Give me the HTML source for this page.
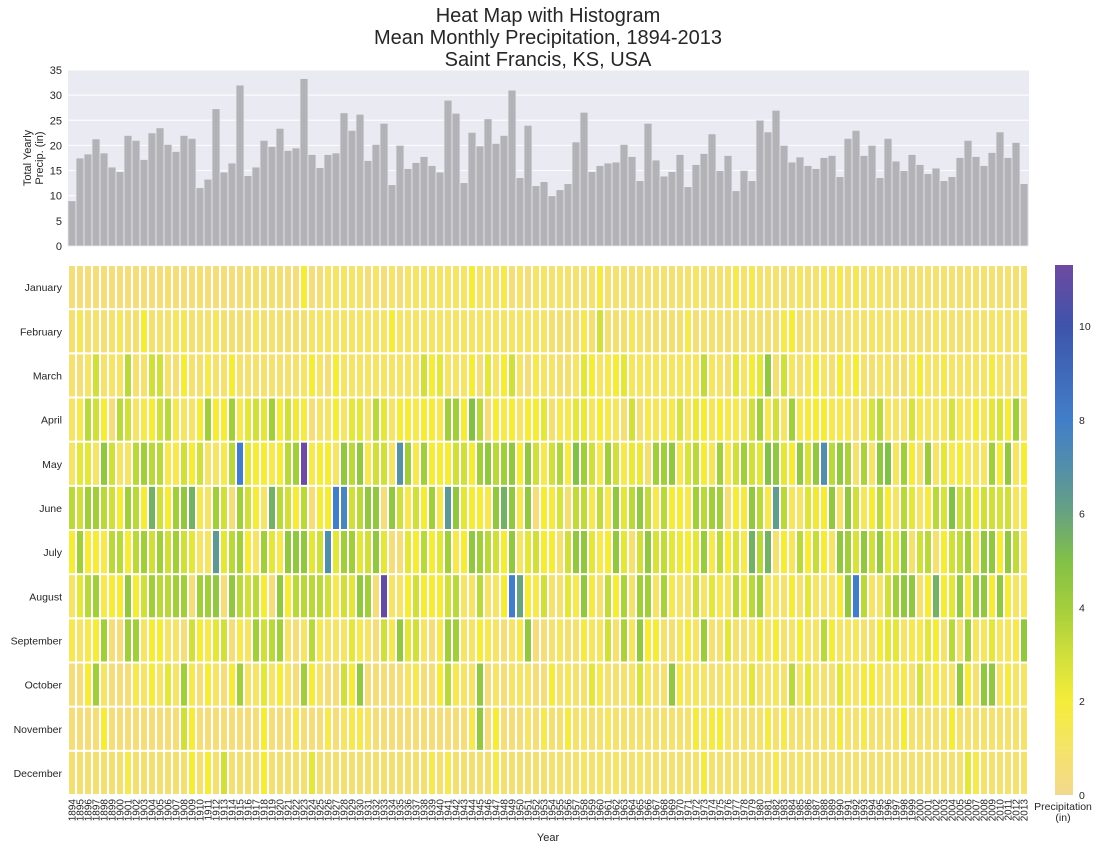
<!DOCTYPE html>
<html><head><meta charset="utf-8">
<style>
body{margin:0;background:#fff;font-family:"Liberation Sans",sans-serif;}
svg text{font-family:"Liberation Sans",sans-serif;fill:#262626;}
</style></head>
<body>
<svg id="chart" width="1100" height="849" viewBox="0 0 1100 849" xmlns="http://www.w3.org/2000/svg">
<text x="548" y="22" font-size="20" text-anchor="middle">Heat Map with Histogram</text>
<text x="548" y="44" font-size="20" text-anchor="middle">Mean Monthly Precipitation, 1894-2013</text>
<text x="548" y="66" font-size="20" text-anchor="middle">Saint Francis, KS, USA</text>
<rect x="68" y="70" width="961" height="176" fill="#eaeaf2"/>
<g id="hgrid"></g>
<g id="bars"></g>
<g id="hticks"></g>
<text transform="translate(31,158) rotate(-90)" font-size="11" text-anchor="middle"><tspan x="0" dy="0">Total Yearly</tspan><tspan x="0" dy="12">Precip. (in)</tspan></text>
<g id="cells"></g>
<g id="months"></g>
<g id="years"></g>
<text x="548" y="841" font-size="11" text-anchor="middle">Year</text>
<defs><linearGradient id="cbg" x1="0" y1="1" x2="0" y2="0"></linearGradient></defs>
<rect x="1055" y="265" width="18" height="530" fill="url(#cbg)"/>
<g id="cbticks"></g>
<text x="1063" y="810" font-size="10.5" text-anchor="middle"><tspan x="1063" dy="0">Precipitation</tspan><tspan x="1063" dy="11">(in)</tspan></text>
</svg>
<script>
const years = [];
for (let y = 1894; y <= 2013; y++) years.push(y);
const months = ["January","February","March","April","May","June","July","August","September","October","November","December"];
const yearlyTotals = [9,17.5,18.3,21.3,18.5,15.7,14.8,22,21,17.2,22.5,23.5,20.2,18.8,22,21.4,11.6,13.3,27.3,14.7,16.5,32,14,15.7,21,19.8,23.4,19,19.5,33.3,
18.2,15.6,18.2,18.5,26.5,23,26.2,17,20.2,24.4,12.2,20,15.4,16.6,17.8,16,14.7,29,26.4,12.6,22.6,19.9,25.3,20.4,22,31,13.6,24,12,12.8,
10,11.2,12.4,20.7,26.6,14.8,16,16.5,16.7,20.2,17.8,13,24.4,17.1,13.9,14.8,18.2,11.8,16.2,18.4,22.3,15,18,11,15,13,25,22.7,27,20,
16.7,17.7,16,15.4,17.6,18,13.8,21.4,23,18,20,13.6,21.4,16.9,15,18.2,16.2,14.4,15.5,13,13.8,17.6,21,17.8,16,18.6,22.7,17.6,20.6,12.4];
const histTicks = [0,5,10,15,20,25,30,35];
const cbTicks = [0,2,4,6,8,10];
// monthly values, one row per month, 120 years each (1894..2013)
const janVals = [0.5,0.5,0.5,0.5,0.5,0.5,0.5,0.5,0.5,0.5,0.5,0.5,0.7,0.5,0.5,0.5,0.7,0.5,0.5,0.5,0.5,0.5,0.7,0.7,0.7,0.7,0.7,0.5,0.5,2,
0.5,0.5,1,1,1,1,1,0.5,1,0.5,1,0.5,1,1,1,1,1,1,1,1,2,1,1,1,1.5,0.5,1,0.5,1,1,
0.8,1,0.8,0.8,0.8,0.8,1.8,0.7,0.8,0.8,0.7,0.8,0.8,0.8,0.8,0.7,0.8,0.8,1,0.8,0.8,0.8,0.8,1.5,0.8,1.5,0.8,0.8,0.8,0.7,
0.8,1.2,0.7,0.8,1.2,0.8,1.5,0.7,1.3,0.8,1,1,0.8,0.8,0.8,0.7,0.8,0.8,0.8,0.8,0.8,0.7,0.8,0.8,0.8,0.8,0.7,0.8,0.7,0.8];
const febVals = [0.7,1.3,0.7,0.8,0.6,0.8,1.2,0.7,0.7,2,0.7,0.8,0.8,1.2,1.3,0.7,0.8,0.8,1.2,0.7,0.7,0.7,0.6,1.2,0.7,0.8,0.7,0.7,0.7,0.7,
1,1,1,1,1,1,1,1,1,1,2,1,1,1,1,1,1,1,1,1,1,1,1,1,1,1,1,1,1,1,
0.7,0.7,0.7,0.7,1.5,0.7,3,0.7,0.7,0.7,1.2,0.8,0.7,0.7,0.7,0.7,0.7,1.5,0.6,0.8,0.8,0.8,0.7,0.8,0.7,0.8,0.7,0.7,0.7,1.5,
2,0.7,0.8,1,0.7,0.8,0.7,0.8,1,0.8,1,1,0.8,1,1,0.8,0.8,0.7,1,1,0.8,0.8,0.8,1,0.8,1,1,0.8,1,1];
const marVals = [0.8,0.6,1,3,0.8,1,1,3.5,0.8,0.8,3,3,0.8,0.6,2,0.8,0.7,1.5,0.8,0.8,2,0.8,0.8,0.8,0.8,0.8,0.8,0.8,0.8,1,
2,1,0.5,2,1,1,1,1,1,1,1,1,1,1,3,2,2.5,1,1,1,2,0.5,2.5,1,2,3,1,0.5,1.5,1,
1,0.7,0.7,1,2.5,2,1,1.5,2,2.5,1.2,1.2,1.2,1.2,1.2,1.2,1.2,1.2,1.2,3.3,1.2,1,0.7,2.5,1,2,2.5,4.5,0.7,3,
1.2,0.7,1.2,2,1,0.7,2,1,2,0.8,0.7,1,1,0.7,0.7,1.2,2,1,1,1.5,1,1,1,1,1,1.8,1,0.8,1,1.2];
const aprVals = [1,1.5,3.5,3,2,0.5,3.5,3,1,1.5,2,3,3.5,1.5,1,1,2,4,2,2,4,1.5,2.5,3,2.5,4,2,3,2.2,1.8,
0.5,1,1,2,1,2.5,2.5,1,3.5,2.5,1,2,2,1.5,2,2,1.5,4,4,2,5,3.5,0.5,2,1.5,2,1,2,2,2.5,
0.7,1.5,1.5,2.5,2.3,1.2,2,1.5,1.2,0.6,3,0.7,1.5,1.3,1.5,1.6,2.8,1.2,2.3,2,1.3,2,1.5,1.5,1.3,3,4,1.5,3,1,
4,1.5,1.8,2,2,1.5,1.5,1.5,0.7,1.5,2.8,3.5,1.2,1,1,2.8,1.5,1.2,1.2,1.3,2.8,1.5,1.2,2,1.3,2.5,2.8,2,4,1];
const mayVals = [1,2.5,2.5,1,4.5,3,1,1,3.5,4,3.5,3.5,1.5,1.5,3,2,3,1,1,1.5,3.5,8,2.5,2,2,1.5,2,3.5,4,11.3,
1.5,2,2,1,4.5,3.5,4.5,1.5,3,3,1,6.8,4,1.5,4,2,2,2,3,3,2,4,4.5,3.5,4,4.5,2,4.5,3,1.5,
3,3.7,1.7,5,4,3,1.5,4,3,1.5,2.3,2.3,0.7,4,4,4.5,1.5,2.8,3.5,2,1.3,4,1.5,3,4,3,2.5,5,4.5,2.5,
2,4.5,2.8,4.5,7,3.5,4.5,3.8,0.8,3.8,1,4.5,5,1.2,4,2,0.8,4.2,1,2.5,1.5,2,1.2,1.2,1,4,2,4.5,1.2,2];
const junVals = [3.5,3,4,4,3.5,3,2,4,3.5,2,5.5,3,2,4,4.5,5.5,1.5,1,4,3,0.5,4,3,2,1,5.5,3.5,3,2,3.5,
0.5,2,2,8,7.5,3,3.5,4.5,4.5,0.5,4.5,3,1.5,3,2,4,1.5,6.5,4.5,2.5,2,2,1.5,4.5,5.5,4.5,1.5,4.5,0.5,2,
1.8,2.8,0.7,3.3,3.3,1.5,3.3,1.5,4.5,2.5,3.5,4.5,3.3,1.5,3.5,2,2,1.5,4,3.5,4,4,0.7,2,1.8,4.5,3.5,1.5,6.3,3.5,
1.2,1,2.6,2.2,2,4.5,1,4.5,3,1.2,2,3.5,2,1,3.5,2.5,1,1.8,3.5,2.8,5,3,3.5,2,3,3,2.8,3,1.2,1.5];
const julVals = [2,4,2,2,1.5,3.5,3.5,2,3.5,4,3,4,3,4,3,2.5,1,1,6.5,2.5,3.5,4,2,1,4,2.5,1.5,4.5,4.5,4.5,
2.5,3,7,2.5,4,4,2.5,3,4.5,2.5,0.5,0.5,2.5,2,3.5,2,2.5,4,1.5,2,4.5,4,3.5,3,2,4.5,1,2.5,3,2,
2,0.8,3,4.5,4.5,2.5,1.5,2,4.5,2.5,0.8,3,4.5,2.8,3.3,2.5,2.2,2,2.5,4.3,1.5,3.5,2,2.8,1.5,5.5,3.5,5.5,0.8,2,
1.2,3.5,2,3.2,2,1,4.5,4,2.8,4.5,3,4.5,2.5,2.5,4.5,0.8,3,3.5,0.8,2,3,3.3,4,1.5,4.5,4.5,2,4.5,3.3,1.2];
const augVals = [1,2.5,3.5,4,1.5,2,2,4.5,2,3,4,3.5,3.5,4,4,0.5,4,4,4.5,0.5,4.5,3.5,3,3.5,2,0.5,4.5,2,3.5,3.5,
3.5,3.5,3,1.5,3,2.5,4.5,4,0.5,11,1,1,2,3,2,2,2,3,3.5,1,1,3.5,1,1,2,8,6,2,1.5,3,
0.8,0.8,2.5,1.5,4.5,1.8,0.8,3.3,2,3.8,0.8,4,4,1,3.8,1.5,1,1,3,1,2.5,1.5,1.2,3.5,1.8,3.5,4,1.2,1.2,0.8,
2,0.8,2.5,1,1,1,2,4.5,8,3.5,1,1,3,4,4.5,4.5,0.8,2,5.5,2,2.5,4.5,1.8,4.5,4.5,2,4.5,2,1,1.2];
const sepVals = [1.5,1,1.5,2,4,0.5,0.5,4,4,1,2,2,1,1,0.5,3,2,1.5,2.5,3,0.5,1.5,1,4,3,3.5,4,1,0.5,1,
3.5,1.5,1,1,1,2.5,1.5,1,0.5,3,1.5,4.5,2.5,3,1,0.5,1.5,4,4,1,1,2,1.5,1,0.5,1,1.5,4.5,0.5,0.5,
0.8,1.2,0.7,0.8,1.8,1.2,1.2,3,0.8,3.8,1.2,4.5,2,2,0.8,0.7,1.2,1.8,1,4.2,0.8,0.8,2.5,0.8,0.8,1,2.2,1,2,0.8,
1,2,1,1,3.5,2,1,1.2,1.2,0.8,0.8,2,2.5,2.5,1,1.5,1.5,2.5,2,0.8,3.5,0.8,4,1.2,1.2,2.5,1.2,1.2,1.5,4.5];
const octVals = [0.5,0.5,2,4,1,0.5,0.5,0.5,1.5,1,2,1,2.5,1,4,1.5,0.5,2,1,0.5,2,4,1,1,2.5,1,2,1,0.5,4,
2,1,0.5,0.5,3,2,4.5,0.5,0.5,0.5,0.5,0.5,1,1.5,0.5,0.5,2,3.5,1.5,1,1,4.5,0.5,1,0.5,1,1,1,0.5,0.5,
2,0.8,1.2,0.8,0.8,2.5,1.5,0.8,0.8,0.8,1,2.8,1.2,0.8,0.8,4.5,1.7,1,1.2,1,0.8,0.8,1.2,0.8,1,2.5,0.8,1,1.2,0.8,
3.5,1,2.5,1,0.8,0.8,2.5,1.5,1,1.8,2,1.2,0.8,1.5,1.5,0.8,2.8,1,1.8,1,1,4.5,2,0.8,4.5,4.5,1,1.8,1,1];
const novVals = [0.5,0.5,0.5,0.5,2,0.5,0.5,0.5,0.5,0.5,0.5,0.5,0.5,0.5,3,2,0.5,0.5,0.5,0.5,0.5,0.5,0.5,0.5,2,0.5,0.5,0.5,1.5,0.5,
0.5,0.5,1.5,0.5,1,1.5,1.5,1,0.5,0.5,0.5,0.5,0.5,0.5,0.5,0.5,0.5,0.5,0.5,0.5,1.5,4.5,0.5,2,0.5,0.5,0.5,1,0.5,1.5,
0.7,0.7,1.8,0.8,1,0.7,0.8,1.2,0.8,0.8,0.8,0.8,0.8,0.8,0.8,0.8,0.8,0.8,1.8,1.2,1.8,2,1,0.8,0.8,0.8,0.8,1.8,0.8,1.5,
0.8,0.8,0.8,0.8,0.8,0.8,1.8,0.8,0.8,1.5,0.8,0.8,0.8,0.8,2,0.8,0.8,0.8,0.8,0.8,2,0.8,0.8,0.8,0.8,0.8,0.8,0.8,0.8,0.8];
const decVals = [0.7,0.7,0.7,0.7,0.7,0.7,0.7,1.5,0.7,0.7,0.7,0.7,0.7,0.7,0.7,2,0.7,2,0.7,3,0.7,0.7,0.7,0.7,2,0.7,0.7,0.7,0.7,0.7,
2.5,0.7,0.7,0.7,0.7,0.7,0.7,0.7,0.7,0.7,0.7,0.7,0.7,0.7,0.7,1.5,0.7,1.5,0.7,0.7,0.7,0.7,0.7,1.5,0.7,0.7,0.7,0.7,0.7,0.7,
0.8,0.8,0.8,0.8,1,0.8,1,0.8,1,0.8,0.8,1,0.8,0.8,0.8,0.8,0.8,0.8,0.8,1.8,0.8,0.8,0.8,0.8,0.8,0.8,0.8,0.8,1.5,0.8,
0.8,1,0.8,0.8,0.8,0.8,0.8,0.8,0.8,0.8,0.8,0.8,0.8,0.8,0.8,0.8,0.8,0.8,0.8,0.8,0.8,0.8,2.5,1.5,0.8,0.8,0.8,0.8,0.8,0.8];
const monthlyRows = [janVals,febVals,marVals,aprVals,mayVals,junVals,julVals,augVals,sepVals,octVals,novVals,decVals];

const NS = "http://www.w3.org/2000/svg";
function mk(tag, attrs, parent){const e=document.createElementNS(NS,tag);for(const k in attrs)e.setAttribute(k,attrs[k]);parent.appendChild(e);return e;}
const X0=68, X1=1028, colW=(X1-X0)/years.length;
const hY0=246, hY1=70, hMax=35;
function hy(v){return hY0-(v/hMax)*(hY0-hY1);}
const mY0=265, mY1=795, rowH=(mY1-mY0)/months.length;
const cMax=11.3;
function cy(v){return mY1-(v/cMax)*(mY1-mY0);}
const stops=[[0,[242,216,142]],[1,[244,228,104]],[2,[245,236,58]],[3,[208,223,60]],[4,[163,206,60]],[5,[130,192,72]],[6,[104,162,128]],[7,[82,142,170]],[8,[66,126,200]],[10,[62,84,170]],[11.3,[110,74,160]]];
function color(v){
  if(v<=stops[0][0])return "rgb("+stops[0][1]+")";
  for(let i=1;i<stops.length;i++){if(v<=stops[i][0]){const a=stops[i-1],b=stops[i];const t=(v-a[0])/(b[0]-a[0]);const c=a[1].map((x,j)=>Math.round(x+(b[1][j]-x)*t));return "rgb("+c.join(",")+")";}}
  return "rgb("+stops[stops.length-1][1]+")";
}
const hgrid=document.getElementById('hgrid'), hticks=document.getElementById('hticks');
histTicks.forEach(t=>{
  const g=mk('line',{x1:X0,x2:X1+1,y1:hy(t),y2:hy(t),stroke:'#fff','stroke-width':1},hgrid);
  
  
  const tx=mk('text',{x:62,y:hy(t)+4,'font-size':11,'text-anchor':'end'},hticks);
  tx.textContent=t;
  
  
});
const bars=document.getElementById('bars');
yearlyTotals.forEach((v,i)=>{
  const r=mk('rect',{x:X0+i*colW,y:hy(v),width:colW,height:hY0-hy(v),fill:'#b2b2b7',stroke:'#eaeaf2','stroke-width':0.8},bars);
  
  
});
const cells=document.getElementById('cells');
monthlyRows.forEach((row,m)=>{
  row.forEach((v,i)=>{
    const r=mk('rect',{x:X0+i*colW+1,y:mY0+m*rowH+1,width:colW-2,height:rowH-2,fill:color(v)},cells);
    
    
  });
});
const mg=document.getElementById('months');
months.forEach((mn,m)=>{
  const t=mk('text',{x:62,y:mY0+(m+0.5)*rowH+4,'font-size':10.5,'text-anchor':'end'},mg);
  t.textContent=mn;
  
  
});
const yg=document.getElementById('years');
years.forEach((y,i)=>{
  const cx=X0+(i+0.5)*colW+3.5;
  const t=mk('text',{transform:'translate('+cx+',799) rotate(-90)','font-size':10,'text-anchor':'end'},yg);
  t.textContent=y;
  
  
});
const grad=document.getElementById('cbg');
stops.forEach(s=>{
  mk('stop',{offset:(s[0]/cMax*100)+'%','stop-color':'rgb('+s[1]+')'},grad);
});
const cbt=document.getElementById('cbticks');
cbTicks.forEach(t=>{
  const tx=mk('text',{x:1079,y:cy(t)+4,'font-size':10.5},cbt);
  tx.textContent=t;
  
  
});
</script>
</body></html>
